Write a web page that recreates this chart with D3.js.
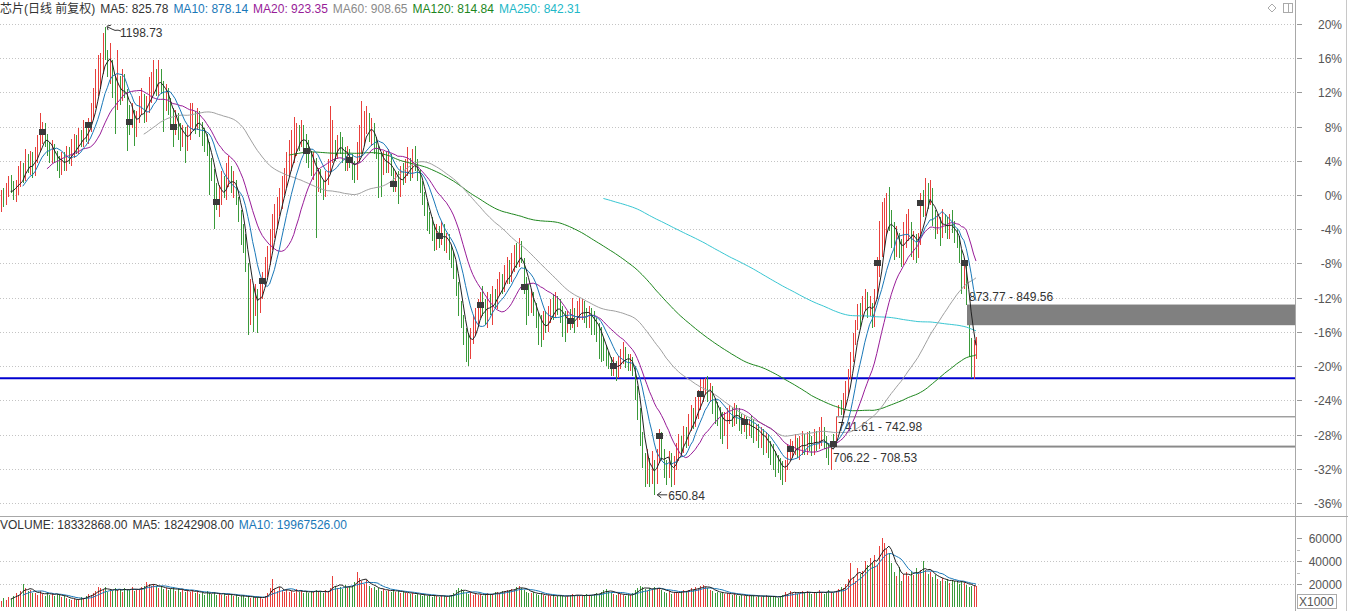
<!DOCTYPE html>
<html><head><meta charset="utf-8">
<script src="https://cdn.jsdelivr.net/npm/d3@7"></script>
<style>
html,body{margin:0;padding:0;background:#fff;}
svg{display:block;font-family:"Liberation Sans",Arial,"Noto Sans CJK SC",sans-serif;}
</style></head><body>
<svg id="c" width="1348" height="611"></svg>
<script>
// ---------- DATA ----------
const closes=[
1002,995,1008,1015,1012,1004,1010,1022,1030,1026,
1041,1036,1044,1031,1048,1060,1072,1076,1066,1058,
1049,1055,1046,1040,1033,1044,1038,1050,1046,1055,
1062,1058,1070,1066,1078,1072,1084,1098,1112,1126,
1140,1152,1178,1170,1150,1158,1128,1112,1130,1118,
1136,1122,1100,1088,1094,1082,1090,1104,1112,1098,
1106,1120,1132,1140,1128,1144,1126,1116,1120,1106,
1096,1082,1090,1076,1068,1074,1062,1072,1084,1090,
1086,1094,1078,1070,1066,1058,1040,1026,1010,994,
1000,1014,1008,1022,1030,1012,1016,998,982,960,
952,920,878,890,868,884,872,890,901,916,
930,948,962,975,988,996,1012,1020,1034,1042,
1050,1058,1072,1066,1078,1060,1054,1046,1032,1040,
1018,1026,1012,1008,1022,1036,1050,1058,1052,1066,
1060,1050,1040,1046,1043,1030,1028,1048,1058,1070,
1084,1090,1072,1080,1060,1052,1040,1034,1046,1038,
1044,1030,1015,1022,1010,1028,1024,1032,1040,1030,
1044,1036,1024,1012,1000,988,972,966,960,948,
956,954,962,944,950,938,930,918,896,870,
852,838,826,820,834,846,858,866,873,868,
862,876,870,882,878,892,900,896,906,914,
908,920,930,926,940,928,894,890,876,882,
868,858,846,838,852,850,862,870,866,874,
870,862,856,848,852,854,860,856,864,868,
870,862,858,864,856,850,842,838,830,818,
810,804,798,802,796,806,812,818,810,804,
806,798,770,745,716,694,676,688,672,690,
668,690,720,700,684,676,696,670,688,700,
712,708,724,716,736,744,738,752,760,769,
778,782,768,772,756,748,744,738,728,736,
742,746,738,750,744,738,732,736,728,734,
730,724,728,718,722,712,716,706,702,694,
690,684,680,676,686,698,704,706,712,702,
708,714,706,716,712,706,718,710,716,720,
712,704,696,700,710,736,748,746,760,772,
792,810,830,848,868,858,872,880,868,876,
850,884,922,946,958,966,984,972,960,944,
950,936,930,954,962,968,944,950,936,946,
993,986,1002,996,1008,970,966,970,962,974,
966,958,972,964,956,948,932,896,922,878,
830,800,790,832];
const opens=[
990,1004,996,1006,1018,1012,1002,1008,1020,1034,
1024,1044,1034,1046,1030,1046,1058,1070,1080,1068,
1060,1046,1058,1048,1042,1032,1046,1036,1052,1044,
1054,1064,1056,1072,1064,1080,1070,1082,1096,1110,
1124,1136,1150,1180,1168,1146,1156,1128,1110,1132,
1120,1138,1120,1102,1086,1096,1080,1092,1102,1114,
1096,1104,1118,1130,1142,1126,1146,1128,1112,1122,
1108,1098,1080,1092,1078,1066,1076,1060,1070,1082,
1092,1084,1096,1080,1072,1068,1060,1042,1028,1012,
990,998,1016,1004,1020,1028,1008,1014,996,980,
962,950,918,876,888,866,886,870,888,900,
914,928,946,960,972,990,994,1010,1018,1032,
1040,1048,1056,1074,1064,1076,1062,1056,1048,1030,
1040,1016,1028,1014,1006,1020,1034,1048,1060,1050,
1068,1062,1052,1036,1048,1042,1034,1026,1046,1056,
1068,1082,1092,1070,1082,1062,1054,1042,1030,1048,
1036,1046,1028,1012,1024,1008,1030,1022,1030,1042,
1028,1046,1038,1026,1014,1002,990,974,968,962,
946,958,950,964,942,952,936,932,916,894,
872,854,840,830,818,836,844,856,864,876,
870,860,878,868,886,876,890,904,894,904,
916,906,918,934,924,942,924,898,892,874,
880,870,860,848,836,854,848,858,872,864,
876,872,864,858,846,856,852,864,854,862,
864,872,864,856,866,858,852,844,840,832,
820,812,806,796,804,794,804,810,818,812,
800,808,798,772,746,718,696,674,690,670,
686,670,692,718,698,686,678,694,672,690,
698,714,706,726,714,734,746,736,750,758,
766,776,784,766,774,758,750,746,740,726,
734,740,748,736,752,746,740,730,738,726,
736,732,722,730,716,724,710,718,708,704,
696,692,688,684,674,686,696,702,704,714,
700,706,716,704,718,714,704,720,708,714,
722,712,702,694,712,714,744,750,748,762,
772,794,812,832,850,870,860,874,882,866,
870,852,886,920,944,952,962,992,970,962,
940,952,938,928,950,960,966,942,952,934,
950,996,984,1004,994,1006,972,962,972,960,
972,968,956,974,962,954,946,930,898,915,
846,826,789,816];
const highs=[
1008,1010,1016,1024,1026,1018,1020,1036,1042,1040,
1056,1050,1054,1052,1058,1072,1098,1088,1086,1074,
1064,1066,1062,1054,1048,1052,1052,1060,1058,1068,
1074,1072,1080,1078,1090,1086,1092,1110,1128,1150,
1166,1168,1192,1198.73,1172,1180,1160,1140,1172,1142,
1150,1144,1126,1108,1110,1102,1100,1118,1128,1120,
1118,1140,1146,1160,1150,1160,1150,1136,1132,1128,
1116,1104,1102,1098,1086,1084,1082,1084,1110,1110,
1100,1104,1100,1088,1080,1074,1064,1046,1032,1016,
1014,1030,1024,1040,1048,1036,1030,1020,1000,984,
968,956,922,904,896,898,892,900,912,930,
942,962,980,992,1000,1010,1024,1034,1052,1066,
1078,1094,1086,1084,1090,1084,1074,1066,1054,1052,
1046,1034,1032,1020,1030,1044,1106,1090,1066,1072,
1076,1070,1058,1060,1056,1050,1042,1064,1084,1112,
1100,1106,1098,1092,1086,1070,1060,1052,1054,1052,
1056,1050,1034,1030,1030,1036,1040,1044,1058,1046,
1056,1060,1044,1032,1018,1006,994,982,976,968,
968,966,972,968,958,956,942,936,922,900,
878,862,846,840,846,860,870,880,888,896,
880,888,886,896,892,904,912,910,920,930,
926,934,944,946,952,948,928,906,898,892,
888,876,864,862,866,866,872,880,886,888,
884,880,872,866,866,868,882,870,878,882,
880,878,870,872,870,866,858,852,848,836,
826,818,812,812,808,814,822,830,824,816,
816,812,802,778,752,724,700,704,694,702,
692,704,728,724,704,692,702,700,696,712,
722,720,732,730,746,756,752,766,774,786,
786,788,790,782,778,764,760,754,748,748,
752,756,752,758,756,752,746,744,742,740,
744,740,734,734,730,728,724,722,714,710,
702,698,694,690,692,710,716,714,722,718,
720,726,722,724,726,720,728,726,730,742,
730,720,712,706.22,722,741.61,756,762,770,784,
798,818,840,856,874,876,884,892,888,884,
876,892,930,972,994,998,1004,1011,984,970,
966,958,950,970,980,986,970,960,956,958,
1004,1008,1022,1016,1020,1010,984,980,976,986,
980,976,980,984,972,962,954,938,928,922,
849.56,834,832,836];
const lows=[
982,988,990,1000,1004,996,994,1002,1012,1016,
1018,1028,1026,1022,1024,1040,1052,1062,1058,1048,
1040,1040,1040,1030,1022,1026,1030,1030,1038,1036,
1046,1050,1050,1058,1058,1064,1062,1076,1090,1104,
1118,1126,1144,1160,1140,1132,1116,1074,1102,1108,
1112,1116,1054,1072,1080,1060,1070,1086,1096,1086,
1088,1098,1110,1120,1118,1118,1120,1076,1100,1096,
1084,1058,1072,1066,1054,1058,1040,1054,1066,1078,
1074,1078,1070,1060,1052,1048,1002,1018,962,984,
976,990,998,996,1012,1004,998,990,970,944,
934,912,838,850,842,860,840,864,880,894,
906,920,938,952,962,978,986,1002,1010,1024,
1030,1040,1048,1054,1058,1050,1040,1034,1024,1020,
952,1006,1004,996,1000,1014,1028,1040,1042,1044,
1050,1040,1030,1030,1034,1020,1016,1020,1040,1050,
1060,1074,1064,1060,1050,1044,998,1000,1026,1028,
1028,1024,1006,1006,992,1000,1014,1016,1024,1018,
1022,1030,1018,1004,990,978,960,956,948,936,
938,940,944,936,934,926,916,904,884,860,
846,826,806,802,810,828,838,848,858,860,
850,846,862,850,868,868,884,886,888,898,
898,900,912,916,918,922,886,850,860,864,
860,846,826,824,832,840,842,852,856,858,
862,852,836,830,840,844,846,840,848,856,
856,852,846,846,838,838,830,810,806,808,
802,798,790,790,784,788,798,804,800,796,
796,790,762,738,708,682,660,664,660,664,
650.84,664,688,692,670,662,670,660,662,680,
690,698,700,706,708,726,728,730,740,750,
760,768,760,760,746,734,732,716,710,720,
704,734,730,732,734,726,722,724,716,720,
718,712,714,706,706,698,700,694,686,680,
672,676,668,662,666,680,690,694,698,694,
692,698,698,698,702,696,698,702,704,708,
704,694,686,680,708.53,712,742.98,744,744,752,
768,786,806,826,844,848,856,866,858,860,
846,848,880,906,930,938,954,960,940,926,
930,928,918,920,940,948,930,926,922,928,
944,976,978,986,990,966,950,956,942,952,
958,950,950,958,946,940,922,886,892,873.77,
812,788,787,810];
// volume in units of 1000
const volumes=[
5200,7400,6100,8800,7000,9600,12400,10800,14200,20100,
16500,13800,15200,11800,12600,10400,13600,11200,9800,12800,
10600,12200,9400,11600,10200,8400,9800,7600,6800,6200,
7200,5800,6600,8400,7800,9600,11200,10400,12600,13800,
17200,16400,14800,17600,12800,15400,13600,16200,14800,15800,
13200,16800,14600,15200,17400,13800,16000,14400,17800,18600,
21400,20200,18400,19600,17200,16800,18200,15600,16400,14800,
15400,17600,14200,16000,13400,15800,12800,14600,13200,15000,
12600,13800,11400,12200,10800,13600,12400,11000,12800,10600,
11800,10200,12400,9800,11200,10600,9400,10800,8600,9200,
10400,8200,9600,7800,8800,7400,9000,8400,7200,9800,
12200,16800,24600,15400,13800,17200,14600,12800,15800,13400,
14200,12600,15600,13000,14800,11800,13600,12400,14000,13200,
15200,12800,13800,12000,14400,13000,16200,26800,18400,16600,
17800,15600,19200,16800,18200,17400,21600,30200,24800,22600,
20400,23200,18600,16400,17800,15200,16600,14200,15400,13600,
14800,13200,15600,12800,14000,12200,13400,11800,12600,11200,
12400,10800,11600,10200,9800,11000,9400,10600,9000,10200,
9600,8800,10400,9200,8400,9800,10800,12400,14600,16200,
15400,13800,12600,11400,12800,10600,11800,10200,11400,9800,
10800,12200,10400,11600,12800,13400,12000,14200,13600,15200,
14400,16000,15200,17400,18600,16200,15000,13400,12600,11800,
12800,11400,10600,11800,10200,9600,10800,9400,10200,9000,
9800,10400,9200,8800,9600,10200,11400,9800,10600,9400,
10200,9600,11000,9800,10400,11600,12400,11200,13200,14400,
15600,13800,12600,11400,10800,12000,11200,10400,9800,10600,
10200,11800,14600,16800,18400,17200,15800,14200,16600,15000,
17400,15600,16800,14400,13200,12600,13800,11600,12400,13000,
12200,13600,14800,13400,15200,16400,14600,17000,15800,18200,
19400,17600,16200,15000,13800,12400,13200,11800,12600,11400,
12000,11200,10600,11800,10200,9800,10800,9400,10000,9200,
9800,10400,9000,9600,8800,9400,10200,8600,9200,8400,
9000,8200,9600,10800,13400,11200,14200,12000,13000,11600,
12400,13600,11800,14000,12600,11400,13200,12000,14800,12400,
11600,12800,14600,13200,12400,13800,15600,17800,16400,19600,
24200,38600,26400,22800,34200,28400,31600,40200,36800,42600,
38400,44800,36200,52800,59600,55400,50200,46800,38200,30400,
26800,34600,22400,28800,30200,26600,31400,28200,33600,29000,
32400,40200,31800,28600,30400,26200,27800,24600,22800,25400,
22200,24400,20600,23200,22400,21800,20200,23000,21000,19400,
17200,18400,17900,18333];
const markerIdx=[17,36,53,71,89,108,126,144,162,181,198,216,235,253,272,289,307,326,344,362,380,398];
const gapStart=[346,344,400];
const gapFrom=[741.61,706.22,873.77];
const gapTo=[742.98,708.53,849.56];
const supportLevel=787.5;
const pctTicks=[20,16,12,8,4,0,-4,-8,-12,-16,-20,-24,-28,-32,-36];
const volTicks=[20000,40000,60000];
const volMinor=[10000,30000,50000];
const headerTitle="芯片(日线 前复权)";
const headerMA=[["MA5","825.78"],["MA10","878.14"],["MA20","923.35"],["MA60","908.65"],["MA120","814.84"],["MA250","842.31"]];
const volHeader=[["VOLUME","18332868.00"],["MA5","18242908.00"],["MA10","19967526.00"]];
const maPeriods=[5,10,20,60,120,250];

// ---------- STYLE ----------
const maColors=["#222222","#1a78b8","#981c98","#a0a0a0","#1d861d","#38c6d2"];
const headerColors=["#333","#1a78b8","#981c98","#8a8a8a","#1d861d","#22b8c8"];
const volHeaderColors=["#333","#333","#1a78b8"];
const UP="#e8403c", DOWN="#3a9a3a";

const svg=d3.select("#c");
const N=closes.length;
const base=closes[0];
const plotR=1295;
const x=d3.scaleLinear().domain([0,N-1]).range([1,976]);
const y=d3.scaleLinear().domain([base*(1-0.36),base*1.20]).range([503,24]);
const yv=d3.scaleLinear().domain([0,60000]).range([607,538]);
const px=i=>Math.round(x(i))+0.5;

svg.append("rect").attr("width",1348).attr("height",611).attr("fill","#fff");

// grid
const g=svg.append("g");
pctTicks.forEach(p=>{
  const yy=Math.round(y(base*(1+p/100)))+0.5;
  g.append("line").attr("x1",0).attr("x2",plotR).attr("y1",yy).attr("y2",yy)
   .attr("stroke","#c4c4c4").attr("stroke-dasharray","1,2");
});
[20000,40000].forEach(v=>{
  const yy=Math.round(yv(v))+0.5;
  g.append("line").attr("x1",0).attr("x2",plotR).attr("y1",yy).attr("y2",yy)
   .attr("stroke","#c4c4c4").attr("stroke-dasharray","1,2");
});

// gap zones
gapStart.forEach((s,k)=>{
  const a=gapFrom[k], b=gapTo[k];
  const y1=y(Math.max(a,b)), y2=y(Math.min(a,b));
  const x0=Math.round(x(s))-2;
  const down=a>b;
  svg.append("rect").attr("x",x0).attr("y",y1).attr("width",plotR-x0).attr("height",Math.max(1.2,y2-y1))
    .attr("fill",down?"#808080":"#8a8a8a");
  svg.append("text").attr("x",x0+2).attr("y",down? y1-4 : y2+14)
    .attr("font-size",12).attr("fill","#333").text(a.toFixed(2)+" - "+b.toFixed(2));
});

// support line
svg.append("line").attr("x1",0).attr("x2",plotR).attr("y1",y(supportLevel)).attr("y2",y(supportLevel))
  .attr("stroke","#0000d0").attr("stroke-width",2);

// candles
const cg=svg.append("g").attr("shape-rendering","crispEdges");
d3.range(N).forEach(i=>{
  const up=closes[i]>=opens[i];
  cg.append("line").attr("x1",px(i)).attr("x2",px(i))
    .attr("y1",y(highs[i])).attr("y2",y(lows[i])).attr("stroke",up?UP:DOWN).attr("stroke-width",1);
});

// moving averages
function ma(arr,n){
  const out=[];let s=0;
  for(let i=0;i<arr.length;i++){s+=arr[i]; if(i>=n) s-=arr[i-n]; if(i>=n-1) out.push([i,s/n]);}
  return out;
}
const lineP=d3.line().x(d=>x(d[0])).y(d=>y(d[1]));
maPeriods.slice().reverse().forEach(n=>{
  const idx=maPeriods.indexOf(n);
  svg.append("path").attr("d",lineP(ma(closes,n))).attr("fill","none")
    .attr("stroke",maColors[idx]).attr("stroke-width",1);
});

// markers
markerIdx.forEach(i=>{
  svg.append("rect").attr("x",Math.round(x(i))-3).attr("y",Math.round(y(closes[i]))-3)
    .attr("width",7).attr("height",6).attr("fill","#3a3a3a");
});

// high / low annotations
const hi=d3.maxIndex(highs), lo=d3.minIndex(lows);
{
  const hx=x(hi)+1, hy=y(highs[hi]);
  svg.append("path").attr("d",`M${hx+2},${hy} l4,2 q3,2 6,1 l3,1`).attr("fill","none").attr("stroke","#333");
  svg.append("path").attr("d",`M${hx+1},${hy-1} l4,-1 M${hx+1},${hy-1} l1,4`).attr("stroke","#333").attr("fill","none");
  svg.append("text").attr("x",hx+14).attr("y",hy+10).attr("font-size",12).attr("fill","#333").text(highs[hi].toFixed(2));
  const lx=x(lo)+1, ly=y(lows[lo]);
  svg.append("path").attr("d",`M${lx+2},${ly} H${lx+12} M${lx+2},${ly} l4,-3 M${lx+2},${ly} l4,3`).attr("fill","none").attr("stroke","#333");
  svg.append("text").attr("x",lx+13).attr("y",ly+5).attr("font-size",12).attr("fill","#333").text(lows[lo].toFixed(2));
}

// volume bars
const vg=svg.append("g").attr("shape-rendering","crispEdges");
d3.range(N).forEach(i=>{
  const up=closes[i]>=opens[i];
  vg.append("line").attr("x1",px(i)).attr("x2",px(i)).attr("y1",yv(0)).attr("y2",yv(volumes[i]))
    .attr("stroke",up?UP:DOWN);
});
const lineV=d3.line().x(d=>x(d[0])).y(d=>yv(d[1]));
svg.append("path").attr("d",lineV(ma(volumes,10))).attr("fill","none").attr("stroke","#1a78b8");
svg.append("path").attr("d",lineV(ma(volumes,5))).attr("fill","none").attr("stroke","#222");

// frame & axis
const fr=svg.append("g").attr("shape-rendering","crispEdges");
fr.append("line").attr("x1",plotR+0.5).attr("x2",plotR+0.5).attr("y1",0).attr("y2",611).attr("stroke","#a8a8a8");
fr.append("line").attr("x1",1346.5).attr("x2",1346.5).attr("y1",0).attr("y2",611).attr("stroke","#c8c8c8");
fr.append("line").attr("x1",0).attr("x2",1348).attr("y1",516.5).attr("y2",516.5).attr("stroke","#a8a8a8");

const ax=svg.append("g").attr("font-size",12).attr("fill","#555");
pctTicks.forEach(p=>{
  const yy=Math.round(y(base*(1+p/100)))+0.5;
  fr.append("line").attr("x1",plotR+2).attr("x2",plotR+7).attr("y1",yy).attr("y2",yy).attr("stroke","#999");
  ax.append("text").attr("x",1342).attr("y",yy+4).attr("text-anchor","end").text(p+"%");
});
volTicks.forEach(v=>{
  const yy=Math.round(yv(v))+0.5;
  fr.append("line").attr("x1",plotR+2).attr("x2",plotR+7).attr("y1",yy).attr("y2",yy).attr("stroke","#999");
  ax.append("text").attr("x",1342).attr("y",yy+4).attr("text-anchor","end").text(v);
});
volMinor.forEach(v=>{
  const yy=Math.round(yv(v))+0.5;
  fr.append("line").attr("x1",plotR+2).attr("x2",plotR+5).attr("y1",yy).attr("y2",yy).attr("stroke","#bbb");
});
fr.append("rect").attr("x",1297.5).attr("y",594.5).attr("width",39).attr("height",14).attr("fill","#fff").attr("stroke","#aaa");
ax.append("text").attr("x",1299).attr("y",606).text("X1000");

// header texts laid out one after another
function rowText(items,colors,y0,x0,gap){
  let cx=x0;
  items.forEach((t,k)=>{
    const el=svg.append("text").attr("x",cx).attr("y",y0).attr("font-size",12).attr("fill",colors[k]).text(t);
    cx+=el.node().getComputedTextLength()+gap;
  });
}
rowText([headerTitle].concat(headerMA.map(m=>m[0]+": "+m[1])),["#333"].concat(headerColors),13,0,5);
rowText(volHeader.map(m=>m[0]+": "+m[1]),volHeaderColors,529,0,5);

// top-right icons
svg.append("path").attr("d","M1272,4 l4,4 l-4,4 l-4,-4 z").attr("fill","none").attr("stroke","#aaa");
svg.append("rect").attr("x",1283.5).attr("y",3.5).attr("width",9).attr("height",9).attr("fill","none").attr("stroke","#aaa");
svg.append("line").attr("x1",1288.5).attr("x2",1288.5).attr("y1",3.5).attr("y2",12.5).attr("stroke","#aaa");
</script>
</body></html>
